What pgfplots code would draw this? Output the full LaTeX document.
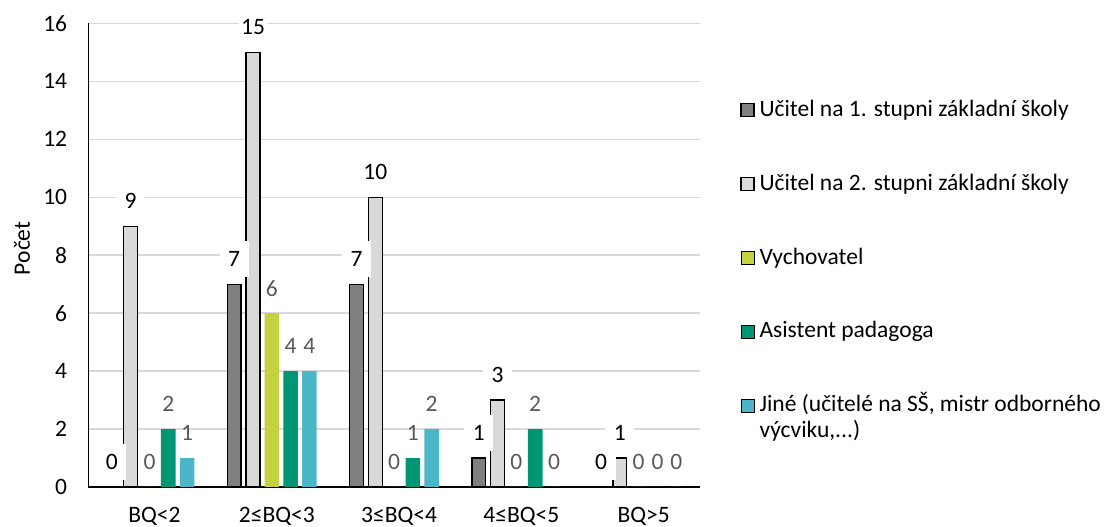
\documentclass[border=0pt]{standalone}
\usepackage{pgfplots}
\usepackage{pgfplotstable}
\pgfplotsset{compat=1.18}
\usepackage{fontspec}
\setmainfont{Carlito}
\newcommand\fs{\fontsize{23.5}{26.2}\selectfont}
\definecolor{cA}{HTML}{7F7F7F}
\definecolor{cB}{HTML}{D9D9D9}
\definecolor{cC}{HTML}{C3D23E}
\definecolor{cD}{HTML}{009673}
\definecolor{cE}{HTML}{4BB6C8}
\definecolor{gridc}{HTML}{D9D9D9}
\definecolor{labgray}{HTML}{595959}
\pgfplotstableread{
x a b c d e
0 0 9 0 2 1
1 7 15 6 4 4
2 7 10 0 1 2
3 1 3 0 2 0
4 0 1 0 0 0
}\data
\pgfplotsset{
  labbox/.style={draw=none, mark=none, forget plot,
    nodes near coords={\phantom{0}},
    nodes near coords style={fill=white, inner sep=0pt, minimum width=29pt, minimum height=36pt, anchor=center, yshift=25pt}},
  labtxt/.style={draw=none, mark=none, forget plot,
    nodes near coords,
    nodes near coords style={font=\fs, text=#1, inner sep=0pt, anchor=center, yshift=25pt}},
}
\begin{document}
\begin{tikzpicture}
\useasboundingbox (0,0) rectangle (1112pt,527pt);
\begin{axis}[
  at={(88.35pt,40pt)}, anchor=south west,
  scale only axis, width=611.5pt, height=463.5pt,
  xmin=-0.5, xmax=4.5, ymin=0, ymax=16,
  axis x line*=bottom, axis y line*=left,
  axis line style={line width=1.5pt, black, -},
  xtick={0,1,2,3,4},
  xticklabels={BQ<2, 2≤BQ<3, 3≤BQ<4, 4≤BQ<5, BQ>5},
  ytick={0,2,...,16},
  major tick length=0pt,
  ymajorgrids, grid style={line width=1.5pt, color=gridc},
  tick label style={font=\fs, text=black},
  /pgf/number format/assume math mode=true,
  xticklabel style={anchor=base, inner sep=0pt, yshift=-36pt, xshift=5pt},
  yticklabel style={anchor=east, inner sep=0pt, xshift=-21pt},
  ylabel={Počet},
  ylabel style={font=\fs, at={(axis description cs:-0.1085,0.515)}, anchor=center},
  legend image code/.code={\draw[#1] (0pt,0pt) rectangle (13pt,13pt);},
  legend style={at={(axis description cs:1.0661,0.8317)}, anchor=north west,
    draw=none, fill=none, inner sep=0pt, outer sep=0pt,
    row sep=53.8pt, column sep=5pt, font=\fs,
    cells={anchor=base west},
    nodes={inner sep=0pt, text height=15pt, text depth=5pt}},
]
\addplot[ybar, bar width=13.8pt, bar shift=-37.6pt, fill=cA, draw=black, line width=1.3pt] table[x=x,y=a]{\data};
\addlegendentry{Učitel na 1. stupni základní školy}
\addplot[ybar, bar width=13.8pt, bar shift=-18.8pt, fill=cB, draw=black, line width=1.3pt] table[x=x,y=b]{\data};
\addlegendentry{Učitel na 2. stupni základní školy}
\addplot[ybar, bar width=14.6pt, bar shift=0pt, fill=cC, draw=none] table[x=x,y=c]{\data};
\addlegendentry{Vychovatel}
\addplot[ybar, bar width=14.6pt, bar shift=18.8pt, fill=cD, draw=none] table[x=x,y=d]{\data};
\addlegendentry{Asistent padagoga}
\addplot[ybar, bar width=14.6pt, bar shift=37.6pt, fill=cE, draw=none] table[x=x,y=e]{\data};
\addlegendentry{{\begin{tabular}[t]{@{}l@{}}Jiné (učitelé na SŠ, mistr odborného\\výcviku,...)\end{tabular}}}
% label boxes (offsets in data units: 18.8pt = 0.15372)
\addplot[labbox] table[x expr=\thisrow{x}-0.30744,y=a]{\data};
\addplot[labbox] table[x expr=\thisrow{x}-0.15372,y=b]{\data};
% label texts
\addplot[labtxt=black] table[x expr=\thisrow{x}-0.30744,y=a]{\data};
\addplot[labtxt=black] table[x expr=\thisrow{x}-0.15372,y=b]{\data};
\addplot[labtxt=labgray] table[x expr=\thisrow{x},y=c]{\data};
\addplot[labtxt=labgray] table[x expr=\thisrow{x}+0.15372,y=d]{\data};
\addplot[labtxt=labgray] table[x expr=\thisrow{x}+0.30744,y=e]{\data};
\end{axis}
\end{tikzpicture}
\end{document}
